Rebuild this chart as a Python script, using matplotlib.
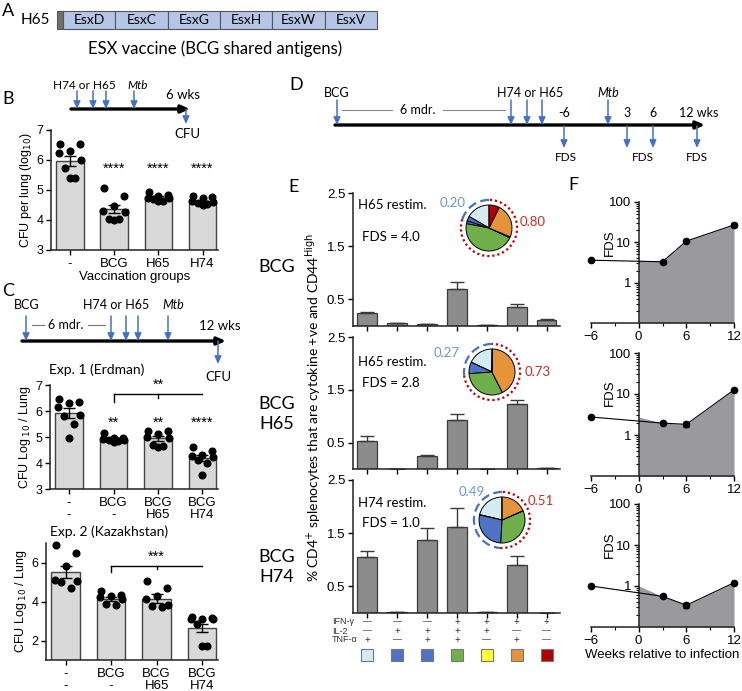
import matplotlib
matplotlib.use('Agg')
import matplotlib.pyplot as plt
from matplotlib.patches import Rectangle, Arc
from matplotlib.transforms import blended_transform_factory
from matplotlib.ticker import FixedLocator, NullFormatter
import numpy as np

plt.rcParams['font.family'] = ['Liberation Sans', 'DejaVu Sans']
CAL = ['Lato', 'DejaVu Sans']

W, H = 742, 691
BLUE = '#4472c4'

# ---- data ----
antigens = ['EsxD', 'EsxC', 'EsxG', 'EsxH', 'EsxW', 'EsxV']

b_groups = ['-', 'BCG', 'H65', 'H74']
b_points = [[6.55, 6.55, 6.3, 6.22, 6.0, 5.72, 5.39, 5.39],
            [5.06, 4.8, 4.47, 4.3, 4.28, 4.02, 4.02, 4.0],
            [4.92, 4.85, 4.8, 4.75, 4.72, 4.7, 4.65, 4.62],
            [4.8, 4.77, 4.75, 4.62, 4.6, 4.58, 4.55, 4.5]]
b_means = [5.97, 4.36, 4.74, 4.6]
b_sem = [0.17, 0.13, 0.05, 0.05]
b_sig = ['', '****', '****', '****']

c_groups = ['-\n-', 'BCG\n-', 'BCG\nH65', 'BCG\nH74']
c1_points = [[6.48, 6.35, 6.3, 6.15, 5.85, 5.8, 5.5, 4.95],
             [5.15, 4.98, 4.95, 4.92, 4.9, 4.88, 4.85, 4.8],
             [5.25, 5.22, 5.1, 5.0, 4.98, 4.68, 4.65, 4.62],
             [4.6, 4.45, 4.3, 4.28, 4.25, 4.1, 4.0, 3.55]]
c1_means = [5.93, 4.9, 4.95, 4.2]
c1_sem = [0.2, 0.05, 0.1, 0.12]
c1_sig = ['**', '**', '****']
c1_bracket = '**'

c2_points = [[6.88, 6.5, 5.8, 5.1, 5.05, 5.0, 4.68],
             [4.55, 4.35, 4.3, 4.25, 4.15, 3.85, 3.8],
             [5.05, 4.7, 4.3, 4.15, 3.8, 3.75, 3.72],
             [3.2, 3.15, 3.1, 3.1, 3.1, 2.85, 1.7, 1.7]]
c2_means = [5.51, 4.12, 4.15, 2.64]
c2_sem = [0.33, 0.1, 0.22, 0.2]
c2_bracket = '***'

combos = ['TNF only', 'IL-2 only', 'IL-2 TNF', 'triple', 'IFN IL-2', 'IFN TNF', 'IFN only']
combo_colors = ['#d5ebf2', '#4f72c6', '#4f72c6', '#70b04a', '#ffff33', '#e6943a', '#b00000']
ifn_row = ['—', '—', '—', '+', '+', '+', '+']
il2_row = ['—', '+', '+', '+', '+', '—', '—']
tnf_row = ['+', '—', '+', '+', '—', '+', '—']

e_rows = ['BCG', 'BCG\nH65', 'BCG\nH74']
e_restim = ['H65 restim.', 'H65 restim.', 'H74 restim.']
e_fds = ['FDS = 4.0', 'FDS = 2.8', 'FDS = 1.0']
e_means = [[0.25, 0.05, 0.03, 0.69, 0.01, 0.36, 0.11],
           [0.53, 0.0, 0.24, 0.92, 0.0, 1.24, 0.01],
           [1.06, 0.01, 1.38, 1.61, 0.01, 0.91, 0.0]]
e_err = [[0.02, 0.01, 0.01, 0.14, 0.0, 0.05, 0.03],
         [0.09, 0.0, 0.03, 0.12, 0.0, 0.07, 0.0],
         [0.1, 0.0, 0.21, 0.36, 0.0, 0.17, 0.0]]
e_blue_frac = [0.20, 0.27, 0.49]
e_red_frac = [0.80, 0.73, 0.51]

weeks = [-6, 3, 6, 12]
f_fds = [[3.6, 3.3, 10.7, 27.0],
         [2.75, 1.95, 1.82, 12.6],
         [1.0, 0.56, 0.34, 1.2]]
f_err = [[0.1, 0.2, 0.5, 3.0],
         [0.15, 0.1, 0.25, 0.5],
         [0.03, 0.03, 0.05, 0.05]]


def rect(l, t, r, b):
    return [l / W, 1 - b / H, (r - l) / W, (b - t) / H]


fig = plt.figure(figsize=(W / 100, H / 100), dpi=100, facecolor='w')

swarm = np.array([-0.2, 0.2, 0.0, -0.22, 0.22, -0.1, 0.1, 0.0])


def style_axes(ax):
    for s in ['top', 'right']:
        ax.spines[s].set_visible(False)
    for s in ['left', 'bottom']:
        ax.spines[s].set_linewidth(1.1)
        ax.spines[s].set_color('#222222')
    ax.tick_params(direction='out', length=3.5, width=1, labelsize=8.5, pad=2)


def cfu_panel(rc, points, means, sem, labels, ylim, yticks, ylabel):
    ax = fig.add_axes(rect(*rc))
    x = np.arange(len(means))
    ax.bar(x, means, width=0.62, color='#d9d9d9', edgecolor='#444444', linewidth=1, zorder=1)
    ax.errorbar(x, means, yerr=sem, fmt='none', ecolor='k', elinewidth=1, capsize=4, capthick=1, zorder=2)
    for i, pts in enumerate(points):
        pts = np.array(pts)
        ax.plot(i + swarm[:len(pts)] * 1.1, pts, 'o', color='k', ms=4.8, zorder=3, clip_on=False)
    ax.set_xlim(-0.43, 3.35)
    ax.set_ylim(*ylim)
    ax.set_yticks(yticks)
    ax.set_xticks(x)
    ax.set_xticklabels(labels, linespacing=1.05)
    ax.set_ylabel(ylabel, fontsize=9, labelpad=2)
    style_axes(ax)
    ax.tick_params(axis='x', labelsize=9.5)
    ax.tick_params(axis='y', labelsize=9)
    return ax


def bracket(ax, y_line, y_tick, text, y_text):
    ax.plot([1, 3], [y_line, y_line], color='k', lw=1, clip_on=False)
    ax.plot([1, 1], [y_tick, y_line], color='k', lw=1, clip_on=False)
    ax.plot([2, 2], [y_line - (y_line - y_tick) * 0.5, y_line], color='k', lw=1, clip_on=False)
    ax.text(2, y_text, text, ha='center', va='center', fontsize=10.5, clip_on=False)


# ---- panel B ----
axB = cfu_panel((51, 130, 218, 250), b_points, b_means, b_sem, b_groups,
                (3, 7), [3, 4, 5, 6, 7], 'CFU per lung (log$_{10}$)')
for i, s in enumerate(b_sig):
    axB.text(i, 5.72, s, ha='center', va='center', fontsize=10.5)
axB.set_xlabel('Vaccination groups', fontsize=9.5, labelpad=1)

# ---- panel C ----
axC1 = cfu_panel((50, 385, 218, 489), c1_points, c1_means, c1_sem, c_groups,
                 (3, 7), [3, 4, 5, 6, 7], 'CFU Log$_{\\ 10}$ / Lung')
for i, s in enumerate(c1_sig):
    axC1.text(i + 1, 5.55, s, ha='center', va='center', fontsize=10.5)
bracket(axC1, 6.66, 6.36, c1_bracket, 7.0)

axC2 = cfu_panel((46, 543, 218, 660), c2_points, c2_means, c2_sem, c_groups,
                 (1, 7), [2, 4, 6], 'CFU Log$_{\\ 10}$ / Lung')
bracket(axC2, 5.84, 5.5, c2_bracket, 6.3)

# ---- panel E ----
e_rects = [(353, 193, 560, 326), (353, 337, 560, 469), (353, 480, 560, 613)]
pie_centres = [(489, 228), (492, 372), (502, 520)]
pie_r = 23
e_axes = []
for k in range(3):
    ax = fig.add_axes(rect(*e_rects[k]))
    x = np.arange(7)
    m = np.array(e_means[k])
    err = np.array(e_err[k])
    ax.bar(x, m, width=0.66, color='#8c8c8c', edgecolor='#3a3a3a', linewidth=0.9, zorder=1)
    ax.errorbar(x, m, yerr=[np.zeros(7), err], fmt='none', ecolor='#3a3a3a',
                elinewidth=1, capsize=5, capthick=1, zorder=2)
    ax.set_xlim(-0.48, 6.45)
    ax.set_ylim(0, 2.5)
    ax.set_yticks([0.5, 1.5, 2.5])
    ax.set_yticklabels(['0.5', '1.5', '2.5'])
    ax.set_xticks(x)
    ax.set_xticklabels([])
    style_axes(ax)
    ax.tick_params(labelsize=9.5)
    e_axes.append(ax)

    # pie of the cytokine profile
    cx, cy = pie_centres[k]
    hs = pie_r * 1.35
    pax = fig.add_axes(rect(cx - hs, cy - hs, cx + hs, cy + hs))
    pax.pie(m, colors=combo_colors, startangle=90, counterclock=True, radius=1,
            wedgeprops=dict(edgecolor='k', linewidth=0.7))
    bf = e_blue_frac[k]
    pax.add_patch(Arc((0, 0), 2.44, 2.44, theta1=90, theta2=90 + 360 * bf,
                      color=BLUE, lw=1.6, ls=(0, (4, 2))))
    pax.add_patch(Arc((0, 0), 2.44, 2.44, theta1=90 + 360 * bf, theta2=450,
                      color='#c00000', lw=1.6, ls=(0, (1, 1.3))))
    pax.set_xlim(-1.35, 1.35)
    pax.set_ylim(-1.35, 1.35)
    pax.set_aspect('equal')
    pax.axis('off')

# cytokine table under the last E panel
axE = e_axes[-1]
tr = blended_transform_factory(axE.transData, fig.transFigure)
rows = [ifn_row, il2_row, tnf_row]
row_y = [622, 631, 640]
for r, yy in zip(rows, row_y):
    for i, s in enumerate(r):
        axE.text(i, 1 - yy / H, s, transform=tr, ha='center', va='center',
                 fontsize=7 if s == '+' else 6.5, color='#333333')
for i, c in enumerate(combo_colors):
    axE.add_patch(Rectangle((i - 0.2, 1 - 661 / H), 0.4, 12 / H, transform=tr,
                            facecolor=c, edgecolor='#777777', lw=0.8, clip_on=False))

# ---- panel F ----
f_rects = [(591, 202, 734, 323), (591, 353, 734, 476), (591, 504, 734, 627)]
for k in range(3):
    ax = fig.add_axes(rect(*f_rects[k]))
    v = f_fds[k]
    ax.fill_between([0] + weeks[1:], [v[0]] + v[1:], 0.1, color='#9a9a9e', lw=0, zorder=1)
    ax.errorbar(weeks, v, yerr=f_err[k], fmt='-o', color='k', ms=4.5, lw=0.8,
                elinewidth=0.8, capsize=2, zorder=3, clip_on=False)
    ax.set_yscale('log')
    ax.set_ylim(0.1, 100)
    ax.set_xlim(-6, 12)
    ax.set_yticks([1, 10, 100])
    ax.set_yticklabels(['1', '10', '100'])
    ax.yaxis.set_minor_locator(FixedLocator(
        [a * b for b in [0.1, 1, 10] for a in range(2, 10)]))
    ax.yaxis.set_minor_formatter(NullFormatter())
    ax.set_xticks([-6, 0, 6, 12])
    ax.set_xticks([-3, 3, 9], minor=True)
    ax.spines['left'].set_position(('data', 0))
    style_axes(ax)
    ax.tick_params(labelsize=9.5)
    ax.tick_params(which='minor', length=2, width=0.8)
    ax.set_facecolor('none')
    if k == 2:
        ax.set_xlabel('Weeks relative to infection', fontsize=9.5, labelpad=2)

# ---- overlay for schematics and free text ----
ov = fig.add_axes([0, 0, 1, 1])
ov.set_xlim(0, W)
ov.set_ylim(H, 0)
ov.axis('off')
ov.patch.set_visible(False)


def T(x, y, s, size=9, family=CAL, **kw):
    kw.setdefault('ha', 'center')
    kw.setdefault('va', 'center')
    ov.text(x, y, s, fontsize=size, family=family, **kw)


def line_arrow(x0, x1, y):
    ov.annotate('', xy=(x1, y), xytext=(x0, y),
                arrowprops=dict(arrowstyle='-|>,head_length=0.5,head_width=0.22',
                                lw=2.4, color='k', shrinkA=0, shrinkB=0))


def down(x, y0, y1):
    ov.annotate('', xy=(x, y1), xytext=(x, y0),
                arrowprops=dict(arrowstyle='-|>,head_length=0.45,head_width=0.2',
                                lw=1.1, color=BLUE, shrinkA=0, shrinkB=0))


# panel letters
for let, (x, y) in zip('ABCDEF', [(8, 11), (8, 99), (8, 291), (296, 85), (294, 187), (573, 185)]):
    T(x, y, let, size=13)

# panel A
T(35, 20, 'H65', size=11)
ov.add_patch(Rectangle((57, 11), 6, 18, facecolor='#707070', edgecolor='#555555', lw=0.8))
seg = (377 - 63) / len(antigens)
for i, a in enumerate(antigens):
    ov.add_patch(Rectangle((63 + i * seg, 11), seg, 18, facecolor='#b4c5e6',
                           edgecolor='#555555', lw=0.8))
    T(63 + (i + 0.5) * seg, 20, a, size=10)
T(215, 49, 'ESX vaccine (BCG shared antigens)', size=12)

# panel B timeline
line_arrow(71, 190, 109)
T(84, 85, 'H74 or H65', size=8.5)
T(138, 85, 'Mtb', size=8.5, style='italic')
for x in [77, 93, 106, 134]:
    down(x, 91, 109)
T(183, 95, '6 wks', size=9.5)
down(186, 109, 124)
T(187, 134, 'CFU', size=9.5)

# panel C timeline
line_arrow(22, 226, 341)
T(27, 305, 'BCG', size=9)
down(26, 316, 341)
ov.plot([32, 44], [325, 325], color='#777777', lw=0.8)
T(66, 325, '6 mdr.', size=9)
ov.plot([88, 105], [325, 325], color='#777777', lw=0.8)
T(116, 305, 'H74 or H65', size=9)
for x in [111, 126, 138, 168]:
    down(x, 316, 341)
T(173, 305, 'Mtb', size=9, style='italic')
T(220, 326, '12 wks', size=9.5)
down(218, 341, 364)
T(218, 377, 'CFU', size=9.5)
T(97, 370, 'Exp. 1 (Erdman)', size=10)
T(109, 532, 'Exp. 2 (Kazakhstan)', size=10)

# panel D timeline
line_arrow(335, 705, 125)
T(337, 93, 'BCG', size=9)
down(337, 100, 125)
ov.plot([342, 392], [110, 110], color='#888888', lw=0.8)
T(418, 110, '6 mdr.', size=9)
ov.plot([443, 505], [110, 110], color='#888888', lw=0.8)
T(530, 93, 'H74 or H65', size=9)
for x in [511, 527, 542, 608]:
    down(x, 100, 125)
T(608, 93, 'Mtb', size=9, style='italic')
for x, s in zip([564, 627, 653, 697], ['-6', '3', '6', '12 wks']):
    T(x if s != '12 wks' else 699, 113, s, size=9)
    down(x, 126, 148)
for x in [566, 643, 697]:
    T(x, 157, 'FDS', size=8.5)

# panel E texts
row_label_y = [267, 414, 567]
for k in range(3):
    T(277, row_label_y[k], e_rows[k], size=13, linespacing=1.25)
    T(358, [205, 362, 503][k], e_restim[k], size=9.5, ha='left')
    T(362, [237, 383, 523][k], e_fds[k], size=9.5, ha='left')
    T([453, 447, 472][k], [203, 353, 492][k], '%.2f' % e_blue_frac[k], size=9.5, color='#6a97d8')
    T([533, 538, 541][k], [222, 372, 501][k], '%.2f' % e_red_frac[k], size=9.5, color='#c0302a')
T(313, 408, '% CD4$^{+}$ splenocytes that are cytokine +ve and CD44$^{\\mathrm{High}}$',
  size=10, rotation=90)
for s, yy in zip(['IFN-γ', 'IL-2', 'TNF-α'], [622, 631, 640]):
    T(332, yy, s, size=6.5, family=['Liberation Sans'], ha='left', color='#333333')

# panel F ylabels
for yy in [243, 393, 545]:
    T(610, yy, 'FDS', size=9.5, family=['Liberation Sans'], rotation=90)

fig.savefig('out.png', dpi=100)
